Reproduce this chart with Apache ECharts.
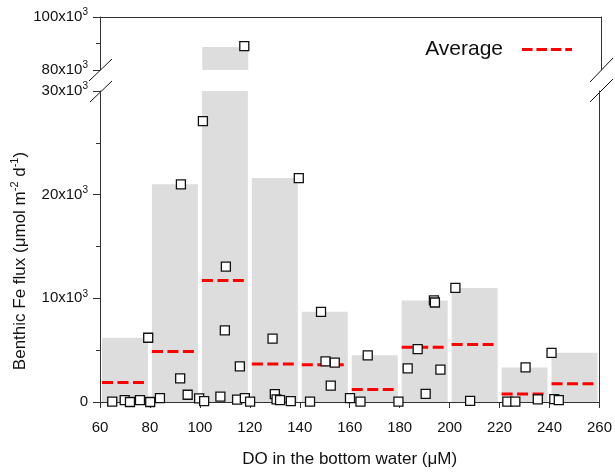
<!DOCTYPE html>
<html>
<head>
<meta charset="utf-8">
<script src="https://cdn.jsdelivr.net/npm/echarts@6/dist/echarts.min.js"></script>
<style>
  html, body { margin: 0; padding: 0; background: #fff; }
  #chart { width: 615px; height: 473px; }
</style>
</head>
<body>
<div id="chart"></div>
<script>
// 每个 20 µM 区间：中心、最大值（灰柱）、平均值（红虚线）
var binCenter = [70, 90, 110, 130, 150, 170, 190, 210, 230, 250];
var binMax = [6200, 21000, 88700, 21600, 8700, 4500, 9800, 11000, 3340, 4740];
var binAvg = [1890, 4860, 11730, 3660, 3600, 1200, 5270, 5550, 760, 1770];

// 散点：底层水 DO 与 Fe 通量
var doValue = [64.9, 69.9, 72, 76, 79.3, 80.1,
    84, 92.1, 92.4, 95.1, 99.7,
    101.2, 101.7, 108.2, 110, 110.4, 114.9, 116, 117.6, 118, 120.1,
    129.1, 130, 130.7, 132.1, 136.4, 139.6,
    144.1, 148.5, 150.3, 152.4, 154, 160.1,
    164.3, 167.2, 179.5,
    183.2, 187.2, 190.4, 193.7, 194.1, 196.3,
    202.3, 208.2,
    223.1, 226.3, 230.4, 235.3,
    240.8, 241.9, 243.7];
var feFlux = [30, 190, 0, 190, 6200, 0,
    380, 2270, 21000, 700, 350,
    27100, 90, 520, 6900, 13050, 220, 3430, 89000, 380, 30,
    6120, 760, 250, 190, 90, 21600,
    30, 8700, 3920, 1580, 3800, 380,
    30, 4500, 30,
    3250, 5100, 790, 9800, 9600, 3120,
    11000, 110,
    30, 30, 3340, 250,
    4740, 280, 190];

var barData = [];
for (var i = 0; i < binCenter.length; i++) {
    barData.push([binCenter[i], binMax[i]]);
}
var avgData = [];
for (var i = 0; i < binCenter.length; i++) {
    avgData.push([binCenter[i] - 10, binCenter[i] + 10, binAvg[i]]);
}
var pts = [];
for (var i = 0; i < doValue.length; i++) {
    pts.push([doValue[i], feFlux[i]]);
}

var font = 'Liberation Sans, Arial, sans-serif';
var axisColor = '#333';
var supRich = {
    b: { fontSize: 15, fontFamily: font, color: '#111', lineHeight: 19 },
    sup: { fontSize: 10, fontFamily: font, color: '#111', verticalAlign: 'top', lineHeight: 10 }
};
function yLabel(v) {
    if (v === 0) return '{b|0}';
    return '{b|' + (v / 1000) + 'x10}{sup|3}';
}

var myChart = echarts.init(document.getElementById('chart'));

option = {
    animation: false,
    backgroundColor: '#fff',
    grid: [
        { left: 100, right: 14, top: 17, height: 53 },   // 上段 80–100x10^3
        { left: 100, right: 14, top: 91, height: 317 }   // 下段 0–30x10^3
    ],
    legend: {
        data: ['Average'],
        right: 38,
        top: 34,
        align: 'right',
        itemWidth: 50,
        itemHeight: 3,
        icon: 'path://M0,0h11v3h-11z M15,0h11v3h-11z M30,0h11v3h-11z M45,0h7v3h-7z',
        textStyle: { fontSize: 21, fontFamily: font, color: '#111', padding: [0, 14, 0, 0] }
    },
    xAxis: [
        {
            gridIndex: 0, type: 'value', min: 60, max: 260, position: 'top',
            axisLine: { show: true, lineStyle: { color: axisColor } },
            axisTick: { show: false }, axisLabel: { show: false }, splitLine: { show: false }
        },
        {
            gridIndex: 1, type: 'value', min: 60, max: 260, interval: 20,
            name: 'DO in the bottom water (\u03bcM)',
            nameLocation: 'middle', nameGap: 49,
            nameTextStyle: { fontSize: 17, fontFamily: font, color: '#111' },
            axisLine: { show: true, onZero: false, lineStyle: { color: axisColor } },
            axisTick: { show: true, length: 6, lineStyle: { color: axisColor } },
            axisLabel: { fontSize: 15, fontFamily: font, color: '#111', margin: 18 },
            splitLine: { show: false }
        }
    ],
    yAxis: [
        {
            gridIndex: 0, type: 'value', min: 80000, max: 100000, interval: 20000,
            axisLine: { show: true, lineStyle: { color: axisColor } },
            axisTick: { show: true, length: 7, lineStyle: { color: axisColor } },
            minorTick: { show: true, splitNumber: 2, length: 4, lineStyle: { color: axisColor } },
            axisLabel: { formatter: yLabel, rich: supRich, margin: 12 },
            splitLine: { show: false }
        },
        {
            gridIndex: 1, type: 'value', min: 0, max: 30000, interval: 10000,
            axisLine: { show: true, lineStyle: { color: axisColor } },
            axisTick: { show: true, length: 7, lineStyle: { color: axisColor } },
            minorTick: { show: true, splitNumber: 2, length: 4, lineStyle: { color: axisColor } },
            axisLabel: { formatter: yLabel, rich: supRich, margin: 12 },
            splitLine: { show: false }
        },
        {
            gridIndex: 0, type: 'value', position: 'right', min: 80000, max: 100000,
            axisLine: { show: true, lineStyle: { color: axisColor } },
            axisTick: { show: false }, axisLabel: { show: false }, splitLine: { show: false }
        },
        {
            gridIndex: 1, type: 'value', position: 'right', min: 0, max: 30000,
            axisLine: { show: true, lineStyle: { color: axisColor } },
            axisTick: { show: false }, axisLabel: { show: false }, splitLine: { show: false }
        }
    ],
    series: [
        {
            type: 'bar', xAxisIndex: 0, yAxisIndex: 0, data: barData, z: 1,
            barWidth: 46, clip: true, itemStyle: { color: '#dddddd' }, silent: true
        },
        {
            type: 'bar', xAxisIndex: 1, yAxisIndex: 1, data: barData, z: 1,
            barWidth: 46, clip: true, itemStyle: { color: '#dddddd' }, silent: true
        },
        {
            name: 'Average',
            type: 'custom', xAxisIndex: 1, yAxisIndex: 1, data: avgData, z: 5,
            itemStyle: { color: '#ff0000' },
            renderItem: function (params, api) {
                var p0 = api.coord([api.value(0), api.value(2)]);
                var p1 = api.coord([api.value(1), api.value(2)]);
                return {
                    type: 'line',
                    z2: 10,
                    shape: { x1: p0[0] + 2, y1: p0[1], x2: p1[0] - 6, y2: p1[1] },
                    style: { stroke: '#ff0000', fill: null, lineWidth: 3, lineDash: [11, 4.5] }
                };
            }
        },
        {
            type: 'scatter', xAxisIndex: 0, yAxisIndex: 0, data: pts, z: 6,
            symbol: 'rect', symbolSize: 9, clip: true,
            itemStyle: { color: '#fff', borderColor: '#111', borderWidth: 1.3, opacity: 1 }
        },
        {
            type: 'scatter', xAxisIndex: 1, yAxisIndex: 1, data: pts, z: 6,
            symbol: 'rect', symbolSize: 9, clip: true,
            itemStyle: { color: '#fff', borderColor: '#111', borderWidth: 1.3, opacity: 1 }
        }
    ],
    graphic: [
        // y 轴标题（带上标）
        {
            type: 'text', x: 20, y: 261, rotation: Math.PI / 2,
            style: {
                text: '{b|Benthic Fe flux (\u03bcmol m}{sup|-2}{b| d}{sup|-1}{b|)}',
                align: 'center', verticalAlign: 'middle',
                rich: {
                    b: { fontSize: 17, fontFamily: font, fill: '#111', lineHeight: 21 },
                    sup: { fontSize: 11, fontFamily: font, fill: '#111', verticalAlign: 'top', lineHeight: 11 }
                }
            }
        },
        // 左右两侧的断轴标记
        { type: 'line', shape: { x1: 89, y1: 81, x2: 112, y2: 59 }, style: { stroke: '#111', lineWidth: 1 } },
        { type: 'line', shape: { x1: 90, y1: 102, x2: 112, y2: 81 }, style: { stroke: '#111', lineWidth: 1 } },
        { type: 'line', shape: { x1: 590, y1: 82, x2: 613, y2: 58 }, style: { stroke: '#111', lineWidth: 1 } },
        { type: 'line', shape: { x1: 590, y1: 102, x2: 613, y2: 79 }, style: { stroke: '#111', lineWidth: 1 } }
    ]
};
myChart.setOption(option);
</script>
</body>
</html>
